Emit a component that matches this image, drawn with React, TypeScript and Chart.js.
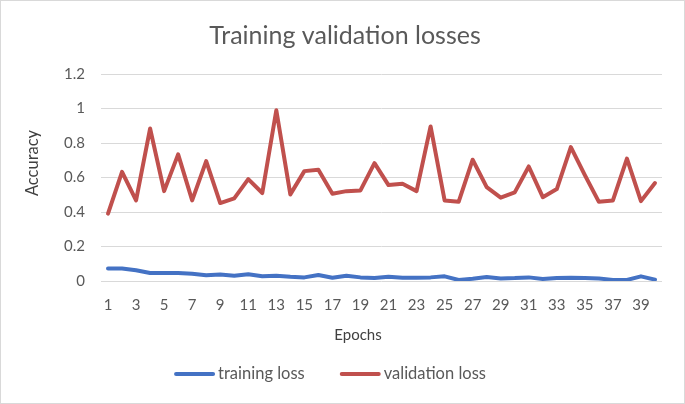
import React, { useEffect, useRef } from "react";
import { Chart, registerables } from "chart.js";

Chart.register(...registerables);

const epochs: string[] = Array.from({ length: 40 }, (_, i) => String(i + 1));

const trainingLoss: number[] = [
  0.073, 0.073, 0.062, 0.046, 0.046, 0.046, 0.042, 0.033, 0.037, 0.031,
  0.039, 0.027, 0.031, 0.025, 0.021, 0.035, 0.019, 0.031, 0.021, 0.017,
  0.025, 0.019, 0.019, 0.021, 0.027, 0.006, 0.013, 0.023, 0.015, 0.017,
  0.021, 0.012, 0.017, 0.019, 0.017, 0.015, 0.006, 0.006, 0.027, 0.008,
];

const validationLoss: number[] = [
  0.39, 0.633, 0.467, 0.884, 0.521, 0.734, 0.467, 0.695, 0.452, 0.479,
  0.591, 0.51, 0.99, 0.502, 0.637, 0.645, 0.506, 0.521, 0.525, 0.683,
  0.556, 0.564, 0.521, 0.896, 0.467, 0.459, 0.703, 0.544, 0.483, 0.514,
  0.664, 0.486, 0.533, 0.776, 0.614, 0.459, 0.467, 0.71, 0.463, 0.568,
];

const yTicks: number[] = [0, 0.2, 0.4, 0.6, 0.8, 1, 1.2];

const titleText = "Training validation losses";
const xTitle = "Epochs";
const yTitle = "Accuracy";
const seriesNames: string[] = ["training loss", "validation loss"];
const seriesColors: string[] = ["#4472C4", "#C0504D"];

const FONT = "Lato, 'Open Sans', sans-serif";

const decorPlugin = {
  id: "decor",
  afterDraw(chart: any) {
    const ctx = chart.ctx as CanvasRenderingContext2D;
    const W = chart.width;
    const H = chart.height;
    ctx.save();
    // outer border
    ctx.strokeStyle = "#d9d9d9";
    ctx.lineWidth = 1;
    ctx.strokeRect(0.5, 0.5, W - 1, H - 1);

    // title
    ctx.fillStyle = "#595959";
    ctx.font = `25px ${FONT}`;
    ctx.textAlign = "center";
    ctx.textBaseline = "middle";
    ctx.fillText(titleText, 345, 36);

    // axis titles
    ctx.fillStyle = "#404040";
    ctx.font = `15px ${FONT}`;
    ctx.fillText(xTitle, 358, 335);
    ctx.save();
    ctx.font = `16.5px ${FONT}`;
    ctx.translate(33, 163);
    ctx.rotate(-Math.PI / 2);
    ctx.fillText(yTitle, 0, 0);
    ctx.restore();

    // legend
    ctx.font = `16.5px ${FONT}`;
    ctx.textAlign = "left";
    const sw = 41;
    const gap = 3;
    const itemGap = 35;
    const widths = seriesNames.map((n) => sw + gap + ctx.measureText(n).width);
    const total = widths.reduce((a, b) => a + b, 0) + itemGap * (widths.length - 1);
    let x = 330 - total / 2;
    const y = 374;
    seriesNames.forEach((name, i) => {
      ctx.strokeStyle = seriesColors[i];
      ctx.lineWidth = 4;
      ctx.lineCap = "round";
      ctx.beginPath();
      ctx.moveTo(x + 2, y);
      ctx.lineTo(x + sw - 2, y);
      ctx.stroke();
      ctx.fillStyle = "#595959";
      ctx.fillText(name, x + sw + gap, y);
      x += widths[i] + itemGap;
    });
    ctx.restore();
  },
};

export default function App() {
  const canvasRef = useRef<HTMLCanvasElement | null>(null);

  useEffect(() => {
    document.body.style.margin = "0";
    const canvas = canvasRef.current;
    if (!canvas) return;
    const chart = new Chart(canvas, {
      type: "line",
      data: {
        labels: epochs,
        datasets: [
          {
            label: seriesNames[0],
            data: trainingLoss,
            borderColor: seriesColors[0],
            backgroundColor: seriesColors[0],
            borderWidth: 4,
            pointRadius: 0,
            tension: 0,
            borderCapStyle: "round",
            borderJoinStyle: "round",
          },
          {
            label: seriesNames[1],
            data: validationLoss,
            borderColor: seriesColors[1],
            backgroundColor: seriesColors[1],
            borderWidth: 4,
            pointRadius: 0,
            tension: 0,
            borderCapStyle: "round",
            borderJoinStyle: "round",
          },
        ],
      },
      options: {
        animation: false,
        responsive: false,
        maintainAspectRatio: false,
        devicePixelRatio: 1,
        layout: { padding: { top: 74, left: 0, right: 23, bottom: 83 } },
        plugins: {
          legend: { display: false },
          title: { display: false },
          tooltip: { enabled: false },
        },
        scales: {
          x: {
            type: "category",
            offset: true,
            grid: { display: false, drawTicks: false },
            border: { display: false },
            ticks: {
              autoSkip: false,
              maxRotation: 0,
              minRotation: 0,
              padding: 15,
              color: "#595959",
              font: { family: FONT, size: 15 },
              callback: (_v: any, i: number) => (i % 2 === 0 ? epochs[i] : ""),
            },
            afterFit: (scale: any) => {
              scale.height = 40;
            },
          },
          y: {
            min: 0,
            max: 1.2,
            afterBuildTicks: (scale: any) => {
              scale.ticks = yTicks.map((v) => ({ value: v }));
            },
            grid: { color: "#d9d9d9", lineWidth: 1, drawTicks: false },
            border: { display: false },
            ticks: {
              padding: 16,
              color: "#595959",
              font: { family: FONT, size: 15 },
              callback: (v: any) => String(Math.round(Number(v) * 10) / 10),
            },
            afterFit: (scale: any) => {
              scale.width = 101;
            },
          },
        },
      },
      plugins: [decorPlugin],
    });
    return () => chart.destroy();
  }, []);

  return (
    <div style={{ position: "absolute", left: 0, top: 0, width: 685, height: 404, background: "#fff" }}>
      <canvas ref={canvasRef} width={685} height={404} style={{ display: "block", width: 685, height: 404 }} />
    </div>
  );
}
